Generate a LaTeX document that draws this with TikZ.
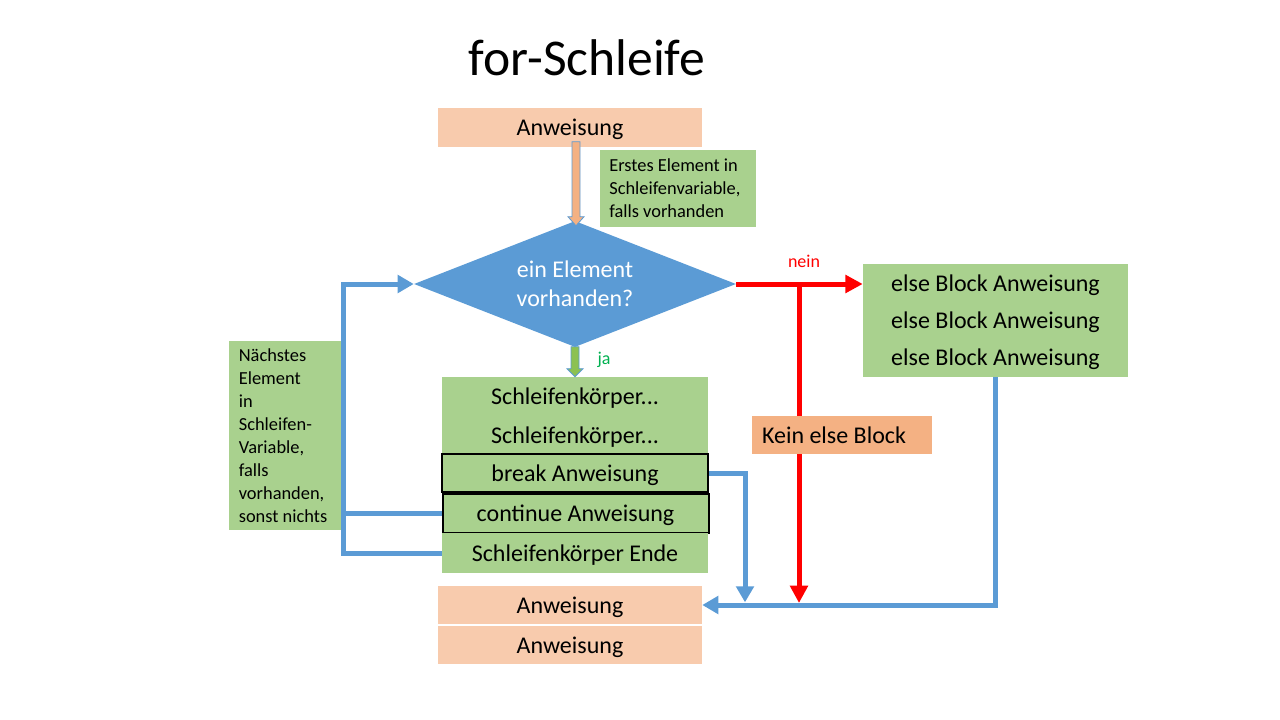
\documentclass[tikz,border=0pt]{standalone}
\usepackage{fontspec}
\setmainfont{Carlito}
\usetikzlibrary{arrows.meta,shapes.geometric,calc}
\definecolor{lor}{HTML}{F8CBAD}
\definecolor{orr}{HTML}{F4B183}
\definecolor{grn}{HTML}{A9D18E}
\definecolor{blu}{HTML}{5B9BD5}
\definecolor{jagrn}{HTML}{00B050}
\definecolor{arrgrn}{HTML}{8CC152}
\begin{document}
\begin{tikzpicture}[x=0.75pt,y=-0.75pt,
  box/.style={rectangle, inner sep=0pt, text=black, text depth=0pt, font=\fontsize{18}{21}\selectfont},
  stmt/.style={box, fill=lor, minimum width=198pt, minimum height=28.5pt},
  row/.style={box, fill=grn, minimum width=199.5pt, minimum height=29.25pt},
  framedrow/.style={row, draw=black, line width=1.5pt},
  note/.style={rectangle, fill=grn, align=flush left, text=black, font=\fontsize{13.8}{17.2}\selectfont},
  blueline/.style={draw=blu, line width=3.75pt},
  bluearrow/.style={blueline, -{Triangle[length=12pt,width=13pt]}},
  redarrow/.style={draw=red, line width=3.75pt, -{Triangle[length=13pt,width=13pt]}},
  blockarrow/.style={draw=blu, line width=0.6pt}
]
\useasboundingbox (0,0) rectangle (1280,720);

% title
\node[font=\fontsize{38.7}{46}\selectfont] (title) at (587,58) {for-Schleife};

% top statement
\node[stmt, minimum height=29.25pt] (top) at (570,127.5) {Anweisung};

% note 1
\node[note, text width=103pt, inner xsep=7pt, inner ysep=0pt, minimum height=57.75pt] (note1) at (678,188.5)
  {Erstes Element in\\Schleifenvariable,\\falls vorhanden};

% diamond
\node[diamond, fill=blu, aspect=2.56, minimum width=241.5pt, minimum height=94.5pt, inner sep=0pt,
  text=white, align=center, font=\fontsize{18}{21.75}\selectfont] (dia) at (575,284) {ein Element\\vorhanden?};

% orange block arrow
\draw[blockarrow, fill=orr] ($(dia.north)+(1,5)$) -- ++(-8,-9) -- ++(4,0) -- ++(0,-75) -- ++(8,0) -- ++(0,75) -- ++(4,0) -- cycle;

% loop body
\node[box, fill=grn, minimum width=199.5pt, minimum height=147pt] (body) at (575,475) {};
\node[row] (s1) at (575,396) {Schleifenkörper...};
\node[row] (s2) at (575,435) {Schleifenkörper...};
\node[framedrow, minimum height=28.5pt] (brk) at (575,473) {break Anweisung};
\node[framedrow] (cont) at (575.5,513.5) {continue Anweisung};
\node[row, minimum height=30pt] (endrow) at (575,553) {Schleifenkörper Ende};

% green "ja" arrow
\draw[blockarrow, fill=arrgrn] (body.north) -- ++(-8,-8) -- ++(4,0) -- ++(0,-22) -- ++(8,0) -- ++(0,22) -- ++(4,0) -- cycle;
\node[text=jagrn, font=\fontsize{13.5}{16}\selectfont] (ja) at (604,360) {ja};

% note 2
\node[note, text width=70pt, inner xsep=7.4pt, inner ysep=0pt, minimum height=141.75pt] (note2) at (285.5,435.5)
  {Nächstes\\Element\\in\\Schleifen-\\Variable,\\falls\\vorhanden,\\sonst nichts};

% else block
\node[box, fill=grn, minimum width=198.75pt, minimum height=84.75pt, align=center,
  font=\fontsize{18}{27.75}\selectfont] (els) at (995.5,320.5)
  {else Block Anweisung\\else Block Anweisung\\else Block Anweisung};

% bottom statements
\node[stmt] (bot1) at (570,605) {Anweisung};
\node[stmt] (bot2) at (570,645) {Anweisung};

% loop-back connectors
\coordinate (lx) at (343,0);
\draw[bluearrow] (endrow.west) -- (endrow.west -| lx) |- (dia.west);
\draw[blueline] (cont.west) -- (cont.west -| lx);

% break / else connectors
\coordinate (bx) at (745,0);
\draw[bluearrow, shorten >=2pt] (brk.east) -| (bx |- bot1.east);
\draw[bluearrow] (els.south) |- (bot1.east);

% red "nein" connectors
\draw[redarrow] (dia.east) -- (dia.east -| els.west);
\coordinate (rx) at (799,0);
\draw[redarrow, shorten >=1.5pt] ([yshift=-2.5pt]rx |- dia.east) -- (rx |- bot1.east);
\node[text=red, font=\fontsize{13.5}{16}\selectfont] (nein) at (804,261) {nein};

% Kein else Block
\node[box, fill=orr, text width=120pt, inner xsep=7.5pt, align=flush left, minimum height=28.5pt] (kein) at (842,435) {Kein else Block};
\end{tikzpicture}
\end{document}
